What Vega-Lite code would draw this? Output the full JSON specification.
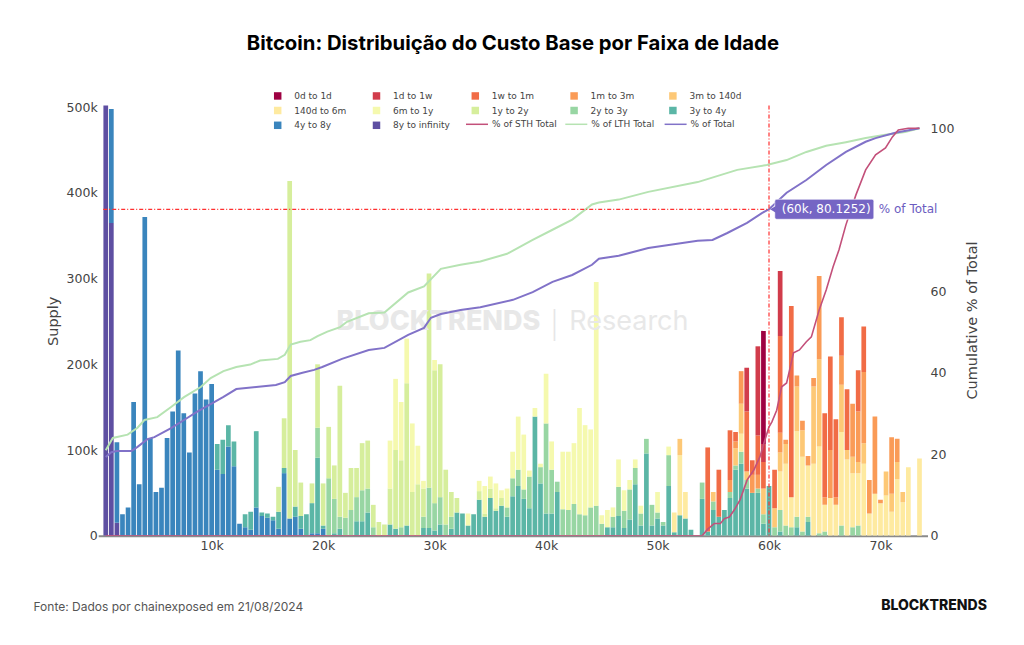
{
"$schema":"https://vega.github.io/schema/vega-lite/v6.json",
"width":829.3,"height":430.2,
"autosize":{"type":"none"},
"padding":{"left":98.2,"top":105.5,"right":96.5,"bottom":109.3},
"background":"white",
"title":{"text":"Bitcoin: Distribuição do Custo Base por Faixa de Idade","font":"Inter","fontSize":20.3,"fontWeight":700,"color":"#000","anchor":"middle","offset":37},
"config":{"view":{"stroke":null},"axis":{"labelFont":"DejaVu Sans","labelFontSize":12.5,"labelColor":"#444","titleFont":"DejaVu Sans","titleColor":"#444","titleFontWeight":400,"titleFontSize":14.5,"grid":false,"ticks":false}},
"datasets":{
"bands":[{"b":0,"n":"8y to infinity"},{"b":1,"n":"4y to 8y"},{"b":2,"n":"3y to 4y"},{"b":3,"n":"2y to 3y"},{"b":4,"n":"1y to 2y"},{"b":5,"n":"6m to 1y"},{"b":6,"n":"140d to 6m"},{"b":7,"n":"3m to 140d"},{"b":8,"n":"1m to 3m"},{"b":9,"n":"1w to 1m"},{"b":10,"n":"1d to 1w"},{"b":11,"n":"0d to 1d"}],
"bars":[
{"p":0.5,"b":0,"v":3600},
{"p":1,"b":0,"v":365},{"p":1,"b":1,"v":133},
{"p":1.5,"b":0,"v":15},{"p":1.5,"b":1,"v":94},
{"p":2,"b":1,"v":25},{"p":2.5,"b":1,"v":33},{"p":3,"b":1,"v":156},{"p":3.5,"b":1,"v":60},{"p":4,"b":1,"v":372},{"p":4.5,"b":1,"v":114},{"p":5,"b":1,"v":51},{"p":5.5,"b":1,"v":56},{"p":6,"b":1,"v":114},{"p":6.5,"b":1,"v":145},{"p":7,"b":1,"v":216},{"p":7.5,"b":1,"v":143},{"p":8,"b":1,"v":97},{"p":8.5,"b":1,"v":166},{"p":9,"b":1,"v":192},{"p":9.5,"b":1,"v":159},{"p":10,"b":1,"v":177},
{"p":10.5,"b":1,"v":77},{"p":10.5,"b":2,"v":30},
{"p":11,"b":1,"v":72},{"p":11,"b":2,"v":40},
{"p":11.5,"b":1,"v":104},{"p":11.5,"b":2,"v":25},
{"p":12,"b":1,"v":81},{"p":12,"b":2,"v":29},
{"p":12.5,"b":1,"v":14},
{"p":13,"b":1,"v":10},{"p":13,"b":2,"v":15},
{"p":13.5,"b":1,"v":7},{"p":13.5,"b":2,"v":21},
{"p":14,"b":1,"v":33},{"p":14,"b":2,"v":89},
{"p":14.5,"b":1,"v":23},{"p":14.5,"b":2,"v":4},
{"p":15,"b":1,"v":21},{"p":15,"b":2,"v":5},
{"p":15.5,"b":1,"v":18},{"p":15.5,"b":2,"v":4},
{"p":16,"b":1,"v":8},{"p":16,"b":2,"v":20},{"p":16,"b":4,"v":29},
{"p":16.5,"b":1,"v":73},{"p":16.5,"b":2,"v":6},{"p":16.5,"b":4,"v":58},
{"p":17,"b":1,"v":20},{"p":17,"b":4,"v":394},
{"p":17.5,"b":1,"v":22},{"p":17.5,"b":2,"v":12},{"p":17.5,"b":4,"v":66},
{"p":18,"b":1,"v":8},{"p":18,"b":2,"v":15},{"p":18,"b":4,"v":39},
{"p":18.5,"b":2,"v":25},
{"p":19,"b":1,"v":3},{"p":19,"b":2,"v":35},{"p":19,"b":4,"v":23},
{"p":19.5,"b":1,"v":3},{"p":19.5,"b":2,"v":88},{"p":19.5,"b":3,"v":35},{"p":19.5,"b":4,"v":74},
{"p":20,"b":1,"v":8},{"p":20,"b":2,"v":4},{"p":20,"b":4,"v":49},
{"p":20.5,"b":3,"v":67},{"p":20.5,"b":4,"v":60},
{"p":21,"b":2,"v":3},{"p":21,"b":3,"v":40},{"p":21,"b":4,"v":39},
{"p":21.5,"b":2,"v":8},{"p":21.5,"b":3,"v":14},{"p":21.5,"b":4,"v":153},
{"p":22,"b":3,"v":21},{"p":22,"b":4,"v":29},
{"p":22.5,"b":3,"v":30},{"p":22.5,"b":4,"v":49},
{"p":23,"b":2,"v":17},{"p":23,"b":3,"v":28},{"p":23,"b":4,"v":34},
{"p":23.5,"b":2,"v":17},{"p":23.5,"b":3,"v":36},{"p":23.5,"b":4,"v":55},
{"p":24,"b":2,"v":27},{"p":24,"b":3,"v":28},{"p":24,"b":4,"v":56},
{"p":24.5,"b":3,"v":10},{"p":24.5,"b":4,"v":26},
{"p":25,"b":4,"v":16},
{"p":25.5,"b":4,"v":13},
{"p":26,"b":2,"v":13},{"p":26,"b":4,"v":42},{"p":26,"b":5,"v":56},
{"p":26.5,"b":2,"v":8},{"p":26.5,"b":4,"v":92},{"p":26.5,"b":5,"v":83},
{"p":27,"b":3,"v":10},{"p":27,"b":4,"v":78},{"p":27,"b":5,"v":68},
{"p":27.5,"b":2,"v":12},{"p":27.5,"b":4,"v":166},{"p":27.5,"b":5,"v":52},
{"p":28,"b":4,"v":51},{"p":28,"b":5,"v":80},
{"p":28.5,"b":4,"v":60},{"p":28.5,"b":5,"v":45},
{"p":29,"b":2,"v":9},{"p":29,"b":3,"v":13},{"p":29,"b":4,"v":33},{"p":29,"b":5,"v":9},
{"p":29.5,"b":2,"v":9},{"p":29.5,"b":3,"v":47},{"p":29.5,"b":4,"v":250},
{"p":30,"b":2,"v":6},{"p":30,"b":3,"v":32},{"p":30,"b":4,"v":155},{"p":30,"b":5,"v":12},
{"p":30.5,"b":2,"v":13},{"p":30.5,"b":3,"v":32},{"p":30.5,"b":4,"v":155},
{"p":31,"b":3,"v":13},{"p":31,"b":4,"v":64},
{"p":31.5,"b":2,"v":8},{"p":31.5,"b":3,"v":14},{"p":31.5,"b":4,"v":29},
{"p":32,"b":2,"v":27},{"p":32,"b":4,"v":17},
{"p":32.5,"b":2,"v":26},
{"p":33,"b":2,"v":12},{"p":33,"b":5,"v":14},
{"p":33.5,"b":2,"v":25},
{"p":34,"b":2,"v":42},{"p":34,"b":4,"v":10},{"p":34,"b":5,"v":12},
{"p":34.5,"b":2,"v":22},{"p":34.5,"b":4,"v":4},{"p":34.5,"b":5,"v":32},
{"p":35,"b":2,"v":44},{"p":35,"b":4,"v":11},{"p":35,"b":5,"v":14},
{"p":35.5,"b":2,"v":29},{"p":35.5,"b":4,"v":3},{"p":35.5,"b":5,"v":29},
{"p":36,"b":2,"v":35},{"p":36,"b":4,"v":9},{"p":36,"b":5,"v":9},
{"p":36.5,"b":2,"v":22},{"p":36.5,"b":3,"v":11},{"p":36.5,"b":5,"v":22},
{"p":37,"b":2,"v":46},{"p":37,"b":3,"v":21},{"p":37,"b":5,"v":31},
{"p":37.5,"b":2,"v":58},{"p":37.5,"b":3,"v":19},{"p":37.5,"b":5,"v":62},
{"p":38,"b":2,"v":43},{"p":38,"b":3,"v":11},{"p":38,"b":5,"v":64},
{"p":38.5,"b":2,"v":32},{"p":38.5,"b":3,"v":37},{"p":38.5,"b":5,"v":7},
{"p":39,"b":2,"v":139},{"p":39,"b":5,"v":10},
{"p":39.5,"b":2,"v":61},{"p":39.5,"b":3,"v":19},{"p":39.5,"b":5,"v":4},
{"p":40,"b":2,"v":26},{"p":40,"b":3,"v":105},{"p":40,"b":5,"v":58},
{"p":40.5,"b":2,"v":26},{"p":40.5,"b":3,"v":51},{"p":40.5,"b":5,"v":33},
{"p":41,"b":2,"v":51},{"p":41,"b":3,"v":12},
{"p":41.5,"b":3,"v":31},{"p":41.5,"b":5,"v":67},
{"p":42,"b":3,"v":30},{"p":42,"b":5,"v":68},
{"p":42.5,"b":3,"v":37},{"p":42.5,"b":5,"v":71},
{"p":43,"b":3,"v":25},{"p":43,"b":5,"v":124},
{"p":43.5,"b":3,"v":24},{"p":43.5,"b":5,"v":105},
{"p":44,"b":3,"v":33},{"p":44,"b":5,"v":91},
{"p":44.5,"b":3,"v":35},{"p":44.5,"b":5,"v":261},
{"p":45,"b":3,"v":14},{"p":45,"b":5,"v":10},
{"p":45.5,"b":2,"v":10},{"p":45.5,"b":5,"v":20},
{"p":46,"b":2,"v":10},{"p":46,"b":3,"v":12},{"p":46,"b":5,"v":11},
{"p":46.5,"b":2,"v":23},{"p":46.5,"b":3,"v":34},{"p":46.5,"b":5,"v":32},
{"p":47,"b":2,"v":9},{"p":47,"b":3,"v":20},{"p":47,"b":5,"v":24},
{"p":47.5,"b":2,"v":19},{"p":47.5,"b":3,"v":35},{"p":47.5,"b":5,"v":11},
{"p":48,"b":2,"v":60},{"p":48,"b":3,"v":19},{"p":48,"b":5,"v":10},
{"p":48.5,"b":2,"v":12},{"p":48.5,"b":3,"v":14},{"p":48.5,"b":5,"v":9},
{"p":49,"b":2,"v":96},{"p":49,"b":3,"v":17},
{"p":49.5,"b":2,"v":12},{"p":49.5,"b":3,"v":24},
{"p":50,"b":2,"v":20},{"p":50,"b":3,"v":7},{"p":50,"b":5,"v":24},
{"p":50.5,"b":2,"v":12},{"p":50.5,"b":3,"v":4},
{"p":51,"b":2,"v":58},{"p":51,"b":3,"v":36},{"p":51,"b":5,"v":10},
{"p":51.5,"b":2,"v":4},{"p":51.5,"b":6,"v":23},
{"p":52,"b":2,"v":24},{"p":52,"b":6,"v":70},{"p":52,"b":7,"v":19},
{"p":52.5,"b":2,"v":20},{"p":52.5,"b":6,"v":31},
{"p":53,"b":2,"v":7},
{"p":54,"b":2,"v":43},{"p":54,"b":3,"v":19},
{"p":54.5,"b":2,"v":5},{"p":54.5,"b":9,"v":98},
{"p":55,"b":2,"v":30},{"p":55,"b":3,"v":10},{"p":55,"b":7,"v":11},
{"p":55.5,"b":2,"v":22},{"p":55.5,"b":9,"v":55},
{"p":56,"b":2,"v":30},
{"p":56.5,"b":2,"v":44},{"p":56.5,"b":3,"v":7},{"p":56.5,"b":8,"v":14},{"p":56.5,"b":9,"v":58},
{"p":57,"b":2,"v":77},{"p":57,"b":3,"v":5},{"p":57,"b":7,"v":20},{"p":57,"b":8,"v":8},{"p":57,"b":9,"v":11},
{"p":57.5,"b":2,"v":84},{"p":57.5,"b":3,"v":14},{"p":57.5,"b":6,"v":21},{"p":57.5,"b":7,"v":35},{"p":57.5,"b":8,"v":38},
{"p":58,"b":2,"v":55},{"p":58,"b":3,"v":10},{"p":58,"b":7,"v":10},{"p":58,"b":9,"v":70},{"p":58,"b":10,"v":51},
{"p":58.5,"b":2,"v":50},{"p":58.5,"b":8,"v":21},{"p":58.5,"b":9,"v":17},
{"p":59,"b":2,"v":50},{"p":59,"b":3,"v":5},{"p":59,"b":8,"v":16},{"p":59,"b":9,"v":46},{"p":59,"b":10,"v":104},
{"p":59.5,"b":2,"v":14},{"p":59.5,"b":3,"v":11},{"p":59.5,"b":7,"v":30},{"p":59.5,"b":9,"v":31},{"p":59.5,"b":10,"v":21},{"p":59.5,"b":11,"v":132},
{"p":60,"b":2,"v":58},
{"p":60.5,"b":3,"v":10},{"p":60.5,"b":7,"v":22},{"p":60.5,"b":9,"v":45},
{"p":61,"b":2,"v":5},{"p":61,"b":3,"v":25},{"p":61,"b":6,"v":45},{"p":61,"b":7,"v":22},{"p":61,"b":8,"v":23},{"p":61,"b":9,"v":113},{"p":61,"b":10,"v":76},
{"p":61.5,"b":3,"v":12},{"p":61.5,"b":6,"v":72},{"p":61.5,"b":7,"v":23},{"p":61.5,"b":8,"v":5},
{"p":62,"b":3,"v":10},{"p":62,"b":6,"v":35},{"p":62,"b":9,"v":223},
{"p":62.5,"b":2,"v":10},{"p":62.5,"b":3,"v":12},{"p":62.5,"b":6,"v":100},{"p":62.5,"b":7,"v":52},{"p":62.5,"b":8,"v":13},
{"p":63,"b":3,"v":5},{"p":63,"b":6,"v":87},{"p":63,"b":7,"v":31},{"p":63,"b":8,"v":11},
{"p":63.5,"b":2,"v":16},{"p":63.5,"b":3,"v":6},{"p":63.5,"b":6,"v":60},{"p":63.5,"b":8,"v":11},
{"p":64,"b":6,"v":84},{"p":64,"b":7,"v":90},{"p":64,"b":8,"v":10},
{"p":64.5,"b":3,"v":3},{"p":64.5,"b":6,"v":101},{"p":64.5,"b":7,"v":102},{"p":64.5,"b":8,"v":97},
{"p":65,"b":3,"v":5},{"p":65,"b":6,"v":31},{"p":65,"b":8,"v":9},{"p":65,"b":9,"v":98},
{"p":65.5,"b":6,"v":44},{"p":65.5,"b":8,"v":56},{"p":65.5,"b":9,"v":109},
{"p":66,"b":6,"v":36},{"p":66,"b":8,"v":9},{"p":66,"b":9,"v":91},
{"p":66.5,"b":3,"v":12},{"p":66.5,"b":6,"v":109},{"p":66.5,"b":7,"v":55},{"p":66.5,"b":8,"v":34},{"p":66.5,"b":9,"v":45},
{"p":67,"b":6,"v":89},{"p":67,"b":7,"v":11},{"p":67,"b":9,"v":71},
{"p":67.5,"b":3,"v":10},{"p":67.5,"b":6,"v":63},{"p":67.5,"b":7,"v":19},{"p":67.5,"b":8,"v":62},
{"p":68,"b":3,"v":12},{"p":68,"b":6,"v":61},{"p":68,"b":7,"v":13},{"p":68,"b":8,"v":59},{"p":68,"b":9,"v":48},
{"p":68.5,"b":6,"v":84},{"p":68.5,"b":7,"v":24},{"p":68.5,"b":8,"v":83},{"p":68.5,"b":9,"v":53},
{"p":69,"b":6,"v":26},{"p":69,"b":8,"v":39},
{"p":69.5,"b":6,"v":49},{"p":69.5,"b":8,"v":90},
{"p":70,"b":6,"v":38},{"p":70,"b":8,"v":4},
{"p":70.5,"b":6,"v":47},{"p":70.5,"b":7,"v":28},
{"p":71,"b":6,"v":28},{"p":71,"b":7,"v":21},{"p":71,"b":8,"v":66},
{"p":71.5,"b":6,"v":66},{"p":71.5,"b":7,"v":20},{"p":71.5,"b":8,"v":27},
{"p":72,"b":6,"v":39},{"p":72,"b":7,"v":12},
{"p":72.5,"b":6,"v":80},
{"p":73.5,"b":6,"v":90}
],
"tot":[{"p":0.5,"q":19.3},{"p":1,"q":20.5},{"p":1.5,"q":20.8},{"p":2.8,"q":20.8},{"p":3.35,"q":21.8},{"p":4.24,"q":23.7},{"p":4.86,"q":24.2},{"p":6.36,"q":26.4},{"p":7.52,"q":28.4},{"p":8.67,"q":30.4},{"p":9.91,"q":32.3},{"p":11.06,"q":34.1},{"p":12.21,"q":36.0},{"p":13.99,"q":36.5},{"p":15.76,"q":37.0},{"p":16.56,"q":37.7},{"p":17.09,"q":39.2},{"p":18.15,"q":40.0},{"p":19.2,"q":40.7},{"p":19.92,"q":41.4},{"p":21.69,"q":43.4},{"p":24.09,"q":45.6},{"p":25.5,"q":46.1},{"p":27.63,"q":49.3},{"p":29.05,"q":51.0},{"p":29.67,"q":53.5},{"p":30.56,"q":54.4},{"p":32.33,"q":55.4},{"p":34.1,"q":56.1},{"p":37.03,"q":57.9},{"p":38.8,"q":59.8},{"p":40.58,"q":62.3},{"p":42.35,"q":64.0},{"p":44.12,"q":66.5},{"p":44.74,"q":68.0},{"p":46.52,"q":68.7},{"p":49.17,"q":70.6},{"p":53.6,"q":72.4},{"p":54.93,"q":72.6},{"p":56.26,"q":74.3},{"p":58.03,"q":76.8},{"p":59.36,"q":79.2},{"p":60,"q":80.1252},{"p":61.58,"q":84.2},{"p":63.35,"q":87.3},{"p":65.13,"q":91.0},{"p":66.9,"q":94.2},{"p":68.67,"q":96.7},{"p":69.56,"q":97.6},{"p":71.33,"q":98.9},{"p":73.5,"q":100}],
"lth":[{"p":0.5,"q":21.0},{"p":1.13,"q":24.0},{"p":2.46,"q":24.8},{"p":3.35,"q":26.5},{"p":3.97,"q":28.4},{"p":5.12,"q":29.1},{"p":6.36,"q":31.6},{"p":7.52,"q":34.0},{"p":9.02,"q":36.5},{"p":9.91,"q":38.7},{"p":11.06,"q":40.4},{"p":12.21,"q":41.4},{"p":13.46,"q":42.0},{"p":14.34,"q":43.0},{"p":15.94,"q":43.4},{"p":16.56,"q":44.4},{"p":17.09,"q":46.9},{"p":17.97,"q":47.6},{"p":18.86,"q":48.0},{"p":19.5,"q":49.0},{"p":20.38,"q":50.1},{"p":21.52,"q":51.2},{"p":22.14,"q":52.5},{"p":24.09,"q":54.6},{"p":25.5,"q":54.8},{"p":27.63,"q":59.7},{"p":29.05,"q":61.2},{"p":30.56,"q":65.5},{"p":32.33,"q":66.5},{"p":34.1,"q":67.3},{"p":36.5,"q":69.2},{"p":38.8,"q":72.6},{"p":40.58,"q":75.1},{"p":42.35,"q":77.6},{"p":44.12,"q":81.3},{"p":44.74,"q":81.8},{"p":46.52,"q":82.5},{"p":49.17,"q":84.4},{"p":53.6,"q":86.8},{"p":57.15,"q":89.8},{"p":59.8,"q":91.0},{"p":61.58,"q":92.2},{"p":63.35,"q":94.2},{"p":65.13,"q":95.7},{"p":66.9,"q":96.6},{"p":68.67,"q":97.6},{"p":70.45,"q":98.4},{"p":72.2,"q":99.1},{"p":73.5,"q":100}],
"sth":[{"p":0.5,"q":0},{"p":54,"q":0},{"p":54.5,"q":1.6},{"p":55.1,"q":3.0},{"p":55.64,"q":3.0},{"p":56.0,"q":4.2},{"p":56.44,"q":4.6},{"p":56.88,"q":6.3},{"p":57.4,"q":8.8},{"p":58.04,"q":13.7},{"p":58.66,"q":16.2},{"p":59.19,"q":19.4},{"p":59.63,"q":23.5},{"p":60.0,"q":26.7},{"p":60.25,"q":27.9},{"p":60.69,"q":30.8},{"p":61.13,"q":36.5},{"p":61.58,"q":37.5},{"p":62.2,"q":44.9},{"p":62.73,"q":45.6},{"p":63.35,"q":47.6},{"p":63.8,"q":48.8},{"p":64.5,"q":55.4},{"p":65.13,"q":60.3},{"p":65.75,"q":66.0},{"p":66.28,"q":70.2},{"p":66.9,"q":76.3},{"p":67.79,"q":83.6},{"p":68.67,"q":89.8},{"p":69.56,"q":93.5},{"p":70.45,"q":95.2},{"p":71.07,"q":97.9},{"p":71.6,"q":99.6},{"p":72.49,"q":100},{"p":73.5,"q":100}],
"hover":[{"p":60,"q":80.1252,"lab":"(60k, 80.1252)","s":"% of Total"}],
"spike":[{"p":0.27,"q":80.1252},{"p":60,"q":80.1252}]
},
"layer":[
{
"data":{"name":"bars"},
"transform":[{"lookup":"b","from":{"data":{"name":"bands"},"key":"b","fields":["n"]}}],
"mark":{"type":"bar","width":4.7,"clip":true},
"encoding":{
"x":{"field":"p","type":"quantitative","scale":{"domain":[0.27,73.77],"nice":false,"zero":false},
"axis":{"values":[10,20,30,40,50,60,70],"labelExpr":"datum.value + 'k'","domainColor":"#8a8a8a","domainWidth":2,"labelPadding":4,"title":"Fonte: Dados por chainexposed em 21/08/2024","titleFont":"Inter","titleFontSize":12,"titleFontWeight":400,"titleColor":"#555","titleAlign":"left","titleAnchor":"start","titleBaseline":"middle","titleX":-65.2,"titleY":70.3}},
"y":{"field":"v","type":"quantitative","stack":"zero","scale":{"domain":[0,502],"nice":false},
"axis":{"orient":"left","values":[0,100,200,300,400,500],"labelExpr":"datum.value == 0 ? '0' : datum.value + 'k'","domain":false,"labelPadding":1,"title":"Supply","titleAngle":270,"titleX":-44.9,"titleY":215.3,"titleAlign":"center","titleBaseline":"middle"}},
"color":{"field":"n","type":"nominal",
"scale":{"domain":["0d to 1d","1d to 1w","1w to 1m","1m to 3m","3m to 140d","140d to 6m","6m to 1y","1y to 2y","2y to 3y","3y to 4y","4y to 8y","8y to infinity"],
"range":["#9e0142","#d13c4b","#f16c46","#fa9b57","#fdc876","#feeaa0","#f5f9ae","#d6ee9c","#98d6a3","#5bb6a6","#3a85bd","#5e4fa2"]},
"legend":{"orient":"none","legendX":175,"legendY":-14.3,"direction":"horizontal","columns":5,"title":null,"symbolType":"square","symbolSize":56,"symbolStrokeWidth":0,"labelFont":"DejaVu Sans","labelFontSize":9,"labelColor":"#444","labelOffset":12,"columnPadding":20.8,"rowPadding":4.8,"gridAlign":"all","padding":0}},
"order":{"field":"b","type":"quantitative","sort":"ascending"}
}
},
{
"layer":[
{"data":{"values":[{"t":"BLOCKTRENDS"}]},"mark":{"type":"text","font":"Inter","fontSize":27,"fontWeight":800,"color":"#e8e8e8","align":"center","baseline":"middle"},
"encoding":{"text":{"field":"t"},"x":{"datum":30.34,"type":"quantitative","scale":{"domain":[0.27,73.77],"nice":false,"zero":false}},"y":{"datum":52.5,"type":"quantitative","scale":{"domain":[0,105.6],"nice":false,"zero":false}}}},
{"data":{"values":[{"t":"Research"}]},"mark":{"type":"text","font":"Inter","fontSize":27,"fontWeight":400,"color":"#e8e8e8","align":"left","baseline":"middle"},
"encoding":{"text":{"field":"t"},"x":{"datum":42.08,"type":"quantitative","scale":{"domain":[0.27,73.77],"nice":false,"zero":false}},"y":{"datum":52.5,"type":"quantitative","scale":{"domain":[0,105.6],"nice":false,"zero":false}}}},
{"data":{"values":[{"t":"|"}]},"mark":{"type":"text","font":"DejaVu Sans","fontSize":32,"fontWeight":200,"color":"#e6e6e6","align":"center","baseline":"middle"},
"encoding":{"text":{"field":"t"},"x":{"datum":40.75,"type":"quantitative","scale":{"domain":[0.27,73.77],"nice":false,"zero":false}},"y":{"datum":52.3,"type":"quantitative","scale":{"domain":[0,105.6],"nice":false,"zero":false}}}},
{"data":{"name":"lth"},"mark":{"type":"line","strokeWidth":2,"clip":true},
"encoding":{"x":{"field":"p","type":"quantitative","scale":{"domain":[0.27,73.77],"nice":false,"zero":false}},
"y":{"field":"q","type":"quantitative","scale":{"domain":[0,105.6],"nice":false,"zero":false},
"axis":{"orient":"right","values":[0,20,40,60,100],"domain":false,"labelPadding":2.5,"title":"Cumulative % of Total","titleAngle":270,"titleX":44.5,"titleY":214.5,"titleAlign":"center","titleBaseline":"middle"}},
"stroke":{"datum":"% of LTH Total","type":"nominal","scale":{"domain":["% of STH Total","% of LTH Total","% of Total"],"range":["#c3507a","#b6e3b2","#8172c8"]},
"legend":{"orient":"none","legendX":366.8,"legendY":6.8,"direction":"horizontal","columns":3,"title":null,"symbolType":"stroke","symbolSize":484,"symbolStrokeWidth":1.5,"labelFont":"DejaVu Sans","labelFontSize":9,"labelColor":"#444","labelOffset":3,"columnPadding":5.3,"gridAlign":"all","padding":0}}}},
{"data":{"name":"tot"},"mark":{"type":"line","strokeWidth":2,"clip":true},
"encoding":{"x":{"field":"p","type":"quantitative","scale":{"domain":[0.27,73.77],"nice":false,"zero":false}},
"y":{"field":"q","type":"quantitative","scale":{"domain":[0,105.6],"nice":false,"zero":false}},
"stroke":{"datum":"% of Total","type":"nominal"}}},
{"data":{"name":"sth"},"mark":{"type":"line","strokeWidth":1.6,"clip":true},
"encoding":{"x":{"field":"p","type":"quantitative","scale":{"domain":[0.27,73.77],"nice":false,"zero":false}},
"y":{"field":"q","type":"quantitative","scale":{"domain":[0,105.6],"nice":false,"zero":false}},
"stroke":{"datum":"% of STH Total","type":"nominal"}}},
{"data":{"name":"spike"},"mark":{"type":"line","color":"#ff3030","strokeWidth":1.2,"strokeDash":[4,2,1,2]},
"encoding":{"x":{"field":"p","type":"quantitative","scale":{"domain":[0.27,73.77],"nice":false,"zero":false}},
"y":{"field":"q","type":"quantitative","scale":{"domain":[0,105.6],"nice":false,"zero":false}}}},
{"data":{"name":"hover"},"mark":{"type":"rule","color":"#ff3030","strokeWidth":1.2,"strokeDash":[4,2,1,2]},
"encoding":{"x":{"field":"p","type":"quantitative","scale":{"domain":[0.27,73.77],"nice":false,"zero":false}}}},
{"data":{"name":"hover"},"mark":{"type":"rect","color":"#7565c4","xOffset":5.8,"x2Offset":104.8,"yOffset":-10,"y2Offset":10,"cornerRadius":2,"stroke":"#ffffff","strokeWidth":0.6},
"encoding":{"x":{"field":"p","type":"quantitative","scale":{"domain":[0.27,73.77],"nice":false,"zero":false}},"x2":{"field":"p"},
"y":{"field":"q","type":"quantitative","scale":{"domain":[0,105.6],"nice":false,"zero":false}},"y2":{"field":"q"}}},
{"data":{"name":"hover"},"mark":{"type":"point","shape":"triangle-left","filled":true,"size":45,"color":"#7565c4","opacity":1,"xOffset":4},
"encoding":{"x":{"field":"p","type":"quantitative","scale":{"domain":[0.27,73.77],"nice":false,"zero":false}},
"y":{"field":"q","type":"quantitative","scale":{"domain":[0,105.6],"nice":false,"zero":false}}}},
{"data":{"name":"hover"},"mark":{"type":"text","align":"left","baseline":"middle","dx":12.8,"font":"DejaVu Sans","fontSize":12,"color":"#ffffff"},
"encoding":{"x":{"field":"p","type":"quantitative","scale":{"domain":[0.27,73.77],"nice":false,"zero":false}},
"y":{"field":"q","type":"quantitative","scale":{"domain":[0,105.6],"nice":false,"zero":false}},"text":{"field":"lab"}}},
{"data":{"name":"hover"},"mark":{"type":"text","align":"left","baseline":"middle","dx":109.8,"font":"DejaVu Sans","fontSize":12,"color":"#6c5cbf"},
"encoding":{"x":{"field":"p","type":"quantitative","scale":{"domain":[0.27,73.77],"nice":false,"zero":false}},
"y":{"field":"q","type":"quantitative","scale":{"domain":[0,105.6],"nice":false,"zero":false}},"text":{"field":"s"}}},
{"data":{"values":[{"t":"BLOCKTRENDS"}]},"mark":{"type":"text","font":"Inter","fontSize":14,"fontWeight":800,"color":"#111","align":"center","baseline":"middle","dx":11.5,"dy":70.3},
"encoding":{"text":{"field":"t"},"x":{"datum":73.77,"type":"quantitative","scale":{"domain":[0.27,73.77],"nice":false,"zero":false}},"y":{"datum":0,"type":"quantitative","scale":{"domain":[0,105.6],"nice":false,"zero":false}}}}
]
}
],
"resolve":{"scale":{"y":"independent"}}
}
